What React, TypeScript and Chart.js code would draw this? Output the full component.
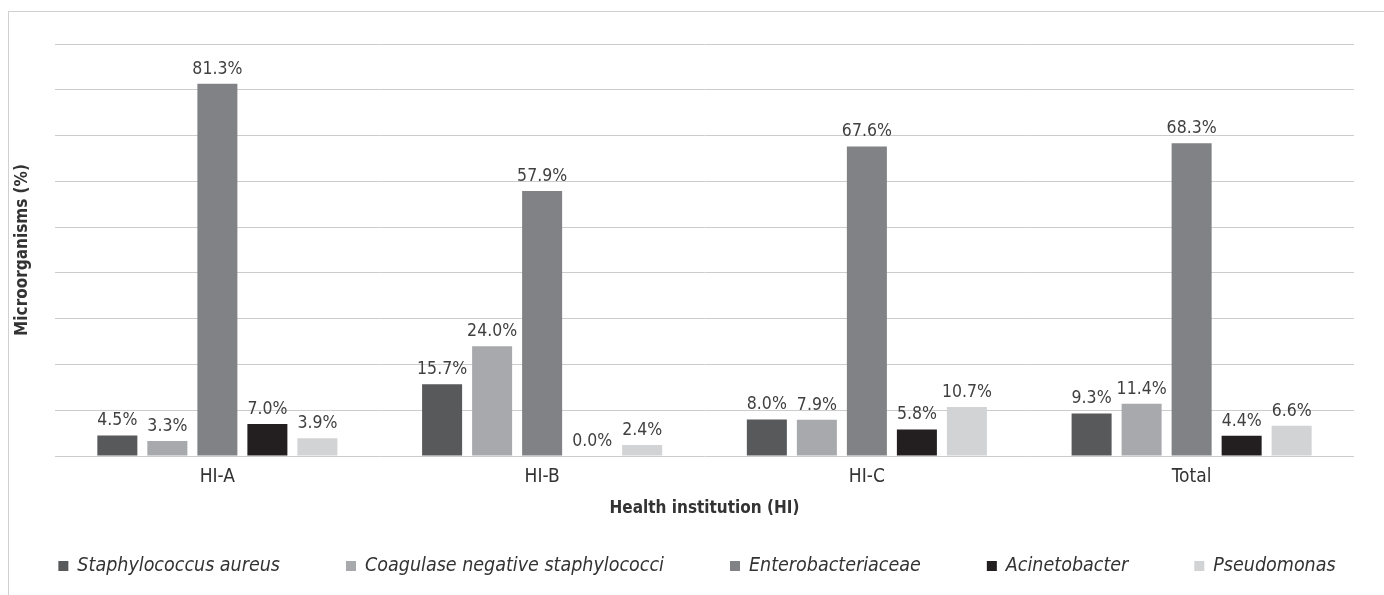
import React, { useEffect, useRef } from "react";
import { Chart, registerables } from "chart.js";

Chart.register(...registerables);

const categories = ["HI-A", "HI-B", "HI-C", "Total"];
const seriesNames = [
  "Staphylococcus aureus",
  "Coagulase negative staphylococci",
  "Enterobacteriaceae",
  "Acinetobacter",
  "Pseudomonas",
];
const staphAureus = [4.5, 15.7, 8.0, 9.3];
const coagNeg = [3.3, 24.0, 7.9, 11.4];
const entero = [81.3, 57.9, 67.6, 68.3];
const acineto = [7.0, 0.0, 5.8, 4.4];
const pseudo = [3.9, 2.4, 10.7, 6.6];
const seriesColors = ["#58595b", "#a7a9ac", "#808285", "#231f20", "#d1d3d4"];
const yMax = 90;
const yStep = 10;

const FONT = '"Liberation Sans Narrow", "DejaVu Sans Condensed", "Roboto Condensed", Arial, sans-serif';
const TEXT = "#333333";

const borderPlugin = {
  id: "outerBorder",
  beforeDraw(chart: any) {
    const ctx = chart.ctx;
    ctx.save();
    ctx.strokeStyle = "#d0d0d0";
    ctx.lineWidth = 1;
    ctx.strokeRect(8.5, 11.5, chart.width + 20, chart.height + 20);
    ctx.restore();
  },
};

const labelPlugin = {
  id: "valueLabels",
  afterDatasetsDraw(chart: any) {
    const ctx = chart.ctx;
    ctx.save();
    ctx.font = `17.5px ${FONT}`;
    ctx.fillStyle = "#404040";
    ctx.textAlign = "center";
    ctx.textBaseline = "bottom";
    chart.data.datasets.forEach((ds: any, i: number) => {
      const meta = chart.getDatasetMeta(i);
      meta.data.forEach((el: any, j: number) => {
        const v = ds.data[j] as number;
        ctx.fillText(v.toFixed(1) + "%", el.x, el.y - 6);
      });
    });
    ctx.restore();
  },
};

const legendPlugin = {
  id: "customLegend",
  afterDraw(chart: any) {
    const ctx = chart.ctx;
    ctx.save();
    ctx.font = `italic 19.5px ${FONT}`;
    ctx.textBaseline = "middle";
    const box = 10;
    const textGap = 9;
    const itemGap = 66;
    const y = 566;
    const items = chart.data.datasets.map((ds: any) => ({
      label: ds.label as string,
      color: ds.backgroundColor as string,
      w: ctx.measureText(ds.label).width,
    }));
    const total =
      items.reduce((s: number, it: any) => s + box + textGap + it.w, 0) +
      itemGap * (items.length - 1);
    let x = 697 - total / 2;
    items.forEach((it: any) => {
      ctx.fillStyle = it.color;
      ctx.fillRect(x, y - box / 2, box, box);
      ctx.fillStyle = TEXT;
      ctx.textAlign = "left";
      ctx.fillText(it.label, x + box + textGap, y);
      x += box + textGap + it.w + itemGap;
    });
    ctx.restore();
  },
};

export default function App() {
  const ref = useRef<HTMLCanvasElement | null>(null);

  useEffect(() => {
    if (!ref.current) return;
    const seriesValues = [staphAureus, coagNeg, entero, acineto, pseudo];
    const chart = new Chart(ref.current, {
      type: "bar",
      data: {
        labels: categories,
        datasets: seriesNames.map((name, i) => ({
          label: name,
          data: seriesValues[i],
          backgroundColor: seriesColors[i],
          borderWidth: 0,
          barPercentage: 0.8,
          categoryPercentage: 0.77,
        })),
      },
      options: {
        animation: false,
        responsive: false,
        maintainAspectRatio: false,
        layout: { padding: { left: 8, right: 30, top: 44, bottom: 71.8 } },
        plugins: {
          legend: { display: false },
          tooltip: { enabled: false },
        },
        scales: {
          x: {
            grid: { display: false, drawTicks: false },
            border: { display: false },
            ticks: {
              color: TEXT,
              font: { family: FONT, size: 19 },
              padding: 10,
            },
            title: {
              display: true,
              text: "Health institution (HI)",
              color: TEXT,
              font: { family: FONT, size: 17, weight: "bold" },
              padding: { top: 0, bottom: 4 },
            },
          },
          y: {
            min: 0,
            max: yMax,
            ticks: { display: false, stepSize: yStep },
            grid: { color: "#cccccc", lineWidth: 1, drawTicks: false },
            border: { display: false },
            title: {
              display: true,
              text: "Microorganisms (%)",
              color: TEXT,
              font: { family: FONT, size: 17, weight: "bold" },
              padding: { top: 4, bottom: 22.6 },
            },
          },
        },
      },
      plugins: [borderPlugin, labelPlugin, legendPlugin],
    });
    return () => chart.destroy();
  }, []);

  return (
    <div style={{ position: "fixed", left: 0, top: 0, width: 1384, height: 595, overflow: "hidden", background: "#fff" }}>
      <canvas ref={ref} width={1384} height={595} style={{ display: "block", width: 1384, height: 595 }} />
    </div>
  );
}
